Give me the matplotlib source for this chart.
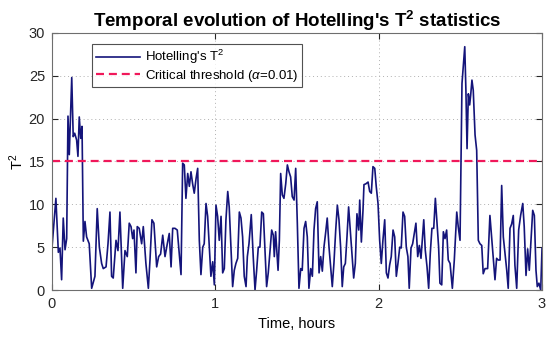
import numpy as np
import matplotlib
matplotlib.use("Agg")
import matplotlib.pyplot as plt

plt.rcParams['font.family'] = ['Liberation Sans', 'DejaVu Sans']
plt.rcParams['mathtext.fontset'] = 'custom'
plt.rcParams['mathtext.rm'] = 'Liberation Sans'
plt.rcParams['mathtext.it'] = 'Liberation Sans:italic'
plt.rcParams['mathtext.bf'] = 'Liberation Sans:bold'

# time (hours) and Hotelling's T^2 values
time_h = [
    0.000, 0.024, 0.039, 0.049, 0.059, 0.069, 0.080, 0.090, 0.098, 0.106,
    0.121, 0.130, 0.139, 0.151, 0.159, 0.167, 0.176, 0.184, 0.192, 0.202,
    0.212, 0.228, 0.243, 0.263, 0.277, 0.290, 0.304, 0.314, 0.331, 0.343,
    0.355, 0.365, 0.375, 0.392, 0.404, 0.416, 0.433, 0.447, 0.461, 0.473,
    0.484, 0.494, 0.502, 0.514, 0.522, 0.534, 0.549, 0.559, 0.575, 0.590,
    0.600, 0.612, 0.624, 0.641, 0.653, 0.665, 0.678, 0.692, 0.706, 0.718,
    0.729, 0.739, 0.753, 0.767, 0.790, 0.800, 0.810, 0.820, 0.831, 0.841,
    0.851, 0.861, 0.871, 0.882, 0.892, 0.902, 0.912, 0.923, 0.932, 0.943,
    0.953, 0.963, 0.973, 0.984, 0.994, 1.004, 1.014, 1.024, 1.035, 1.045,
    1.055, 1.065, 1.076, 1.085, 1.096, 1.106, 1.116, 1.126, 1.137, 1.147,
    1.157, 1.167, 1.177, 1.188, 1.196, 1.206, 1.220, 1.232, 1.243, 1.253,
    1.263, 1.273, 1.284, 1.294, 1.304, 1.314, 1.324, 1.335, 1.345, 1.355,
    1.361, 1.369, 1.376, 1.384, 1.392, 1.400, 1.410, 1.420, 1.431, 1.441,
    1.451, 1.461, 1.471, 1.482, 1.492, 1.502, 1.512, 1.523, 1.532, 1.543,
    1.553, 1.563, 1.573, 1.584, 1.594, 1.604, 1.614, 1.624, 1.635, 1.645,
    1.655, 1.665, 1.676, 1.685, 1.696, 1.706, 1.716, 1.726, 1.737, 1.747,
    1.757, 1.767, 1.777, 1.786, 1.796, 1.806, 1.816, 1.826, 1.837, 1.847,
    1.857, 1.867, 1.878, 1.884, 1.894, 1.904, 1.910, 1.922, 1.935, 1.945,
    1.955, 1.965, 1.976, 1.985, 1.996, 2.006, 2.016, 2.026, 2.037, 2.047,
    2.057, 2.067, 2.077, 2.088, 2.098, 2.108, 2.118, 2.129, 2.138, 2.149,
    2.159, 2.169, 2.179, 2.187, 2.198, 2.208, 2.218, 2.228, 2.239, 2.249,
    2.259, 2.267, 2.276, 2.285, 2.296, 2.306, 2.316, 2.326, 2.337, 2.347,
    2.357, 2.367, 2.375, 2.386, 2.396, 2.406, 2.416, 2.426, 2.437, 2.451,
    2.463, 2.478, 2.487, 2.498, 2.504, 2.510, 2.518, 2.527, 2.534, 2.541,
    2.549, 2.557, 2.563, 2.571, 2.579, 2.590, 2.600, 2.610, 2.620, 2.631,
    2.640, 2.651, 2.667, 2.681, 2.692, 2.702, 2.712, 2.722, 2.732, 2.743,
    2.753, 2.763, 2.773, 2.784, 2.793, 2.804, 2.814, 2.824, 2.834, 2.845,
    2.857, 2.869, 2.882, 2.891, 2.902, 2.912, 2.922, 2.932, 2.943, 2.953,
    2.963, 2.971, 2.981, 2.992, 3.000,
]
t2_values = [
    4.9, 10.7, 4.4, 4.9, 1.2, 8.4, 4.7, 6.0, 20.3, 15.8,
    24.8, 17.9, 18.3, 17.5, 15.6, 20.2, 17.7, 19.1, 5.7, 8.0,
    6.2, 5.4, 0.2, 1.6, 9.5, 5.0, 3.1, 2.5, 2.7, 5.4,
    9.1, 1.6, 1.4, 5.8, 4.6, 9.1, 0.2, 4.6, 3.9, 7.8,
    7.4, 6.0, 7.0, 2.0, 7.4, 7.2, 5.4, 7.4, 3.1, 0.2,
    3.5, 8.2, 7.8, 2.7, 3.9, 4.2, 6.4, 3.9, 5.4, 6.6,
    2.7, 7.2, 7.2, 7.0, 1.8, 14.8, 14.6, 10.7, 13.6, 12.1,
    13.8, 12.4, 11.3, 13.0, 14.2, 5.8, 1.8, 5.0, 5.4, 10.1,
    8.6, 5.0, 1.6, 3.3, 0.6, 9.9, 8.6, 5.8, 8.6, 2.0,
    2.5, 8.2, 11.5, 9.7, 4.7, 0.4, 2.3, 3.1, 3.7, 9.1,
    8.4, 6.2, 1.6, 0.4, 3.9, 5.4, 8.8, 3.9, 0.0, 2.3,
    5.0, 5.0, 9.1, 8.9, 4.7, 0.4, 2.0, 4.7, 7.0, 6.4,
    3.9, 6.8, 4.7, 2.3, 5.8, 13.6, 11.1, 10.7, 12.4, 14.6,
    13.8, 13.2, 10.9, 10.5, 14.2, 7.8, 0.2, 2.5, 2.3, 7.2,
    8.0, 6.2, 0.2, 2.5, 1.6, 7.0, 9.5, 10.3, 2.0, 3.9,
    2.2, 5.0, 6.8, 8.4, 5.0, 2.7, 0.4, 3.1, 7.0, 9.9,
    8.2, 5.0, 0.4, 2.7, 3.1, 6.2, 9.7, 7.0, 3.9, 1.4,
    3.1, 8.9, 7.0, 10.5, 5.6, 9.3, 12.3, 12.4, 12.6, 11.5,
    11.3, 14.4, 14.2, 12.1, 10.1, 5.8, 3.1, 5.8, 8.2, 2.0,
    1.4, 2.9, 3.9, 7.0, 6.2, 1.6, 3.1, 5.0, 4.9, 9.1,
    8.6, 5.0, 3.9, 0.2, 4.9, 5.4, 6.6, 7.8, 3.9, 5.2,
    3.7, 5.8, 8.2, 4.7, 2.7, 0.2, 4.3, 7.2, 7.2, 10.7,
    7.8, 5.0, 0.8, 0.6, 6.8, 6.0, 7.0, 3.5, 3.1, 0.2,
    3.5, 9.1, 7.4, 5.8, 15.4, 24.1, 26.1, 28.4, 23.3, 16.5,
    22.9, 21.6, 22.7, 24.5, 23.3, 18.1, 16.3, 5.8, 5.4, 5.2,
    1.9, 2.5, 2.5, 8.7, 6.0, 3.5, 1.2, 3.7, 3.5, 3.5,
    12.2, 6.2, 4.3, 2.3, 0.2, 7.2, 7.7, 8.7, 2.9, 0.2,
    7.0, 8.7, 10.1, 7.4, 1.7, 4.8, 2.3, 5.6, 9.3, 8.7,
    2.3, 0.4, 0.8, 0.0, 4.9,
]
threshold = 15
x_ticks = [0, 1, 2, 3]
y_ticks = [0, 5, 10, 15, 20, 25, 30]

fig = plt.figure(figsize=(5.5, 3.39), dpi=100)
ax = fig.add_axes([0.0945, 0.1445, 0.891, 0.7582])

ax.plot(time_h, t2_values, color='#14147a', lw=1.2, label="Hotelling's T$^{2}$")
ax.axhline(threshold, color='#f0185a', lw=1.6, ls=(0, (3.6, 2.2)),
           label=r'Critical threshold ($\alpha$=0.01)')

ax.set_xlim(0, 3)
ax.set_ylim(0, 30)
ax.set_xticks(x_ticks)
ax.set_yticks(y_ticks)
ax.tick_params(direction='in', top=True, right=True, length=4, width=0.8,
               labelsize=10.5, colors='#262626', pad=5)
for s in ax.spines.values():
    s.set_color('#6e6e6e')
    s.set_linewidth(0.8)
ax.grid(True, ls=(0, (1, 3)), color='#b0b0b0', lw=0.7)

ax.set_title(r"Temporal evolution of Hotelling's T$^{\mathbf{2}}$ statistics",
             fontsize=13.5, fontweight='bold', pad=4)
ax.set_xlabel('Time, hours', fontsize=10.5, labelpad=4)
ax.set_ylabel('T$^{2}$', fontsize=10.5, labelpad=2)

leg = ax.legend(loc='upper left', bbox_to_anchor=(0.082, 0.957), borderaxespad=0,
                fontsize=9.5, frameon=True, fancybox=False, handlelength=3.3,
                handletextpad=0.4, borderpad=0.3, labelspacing=0.1)
leg.get_frame().set_edgecolor('#262626')
leg.get_frame().set_linewidth(0.8)

fig.savefig('out.png', dpi=100)
